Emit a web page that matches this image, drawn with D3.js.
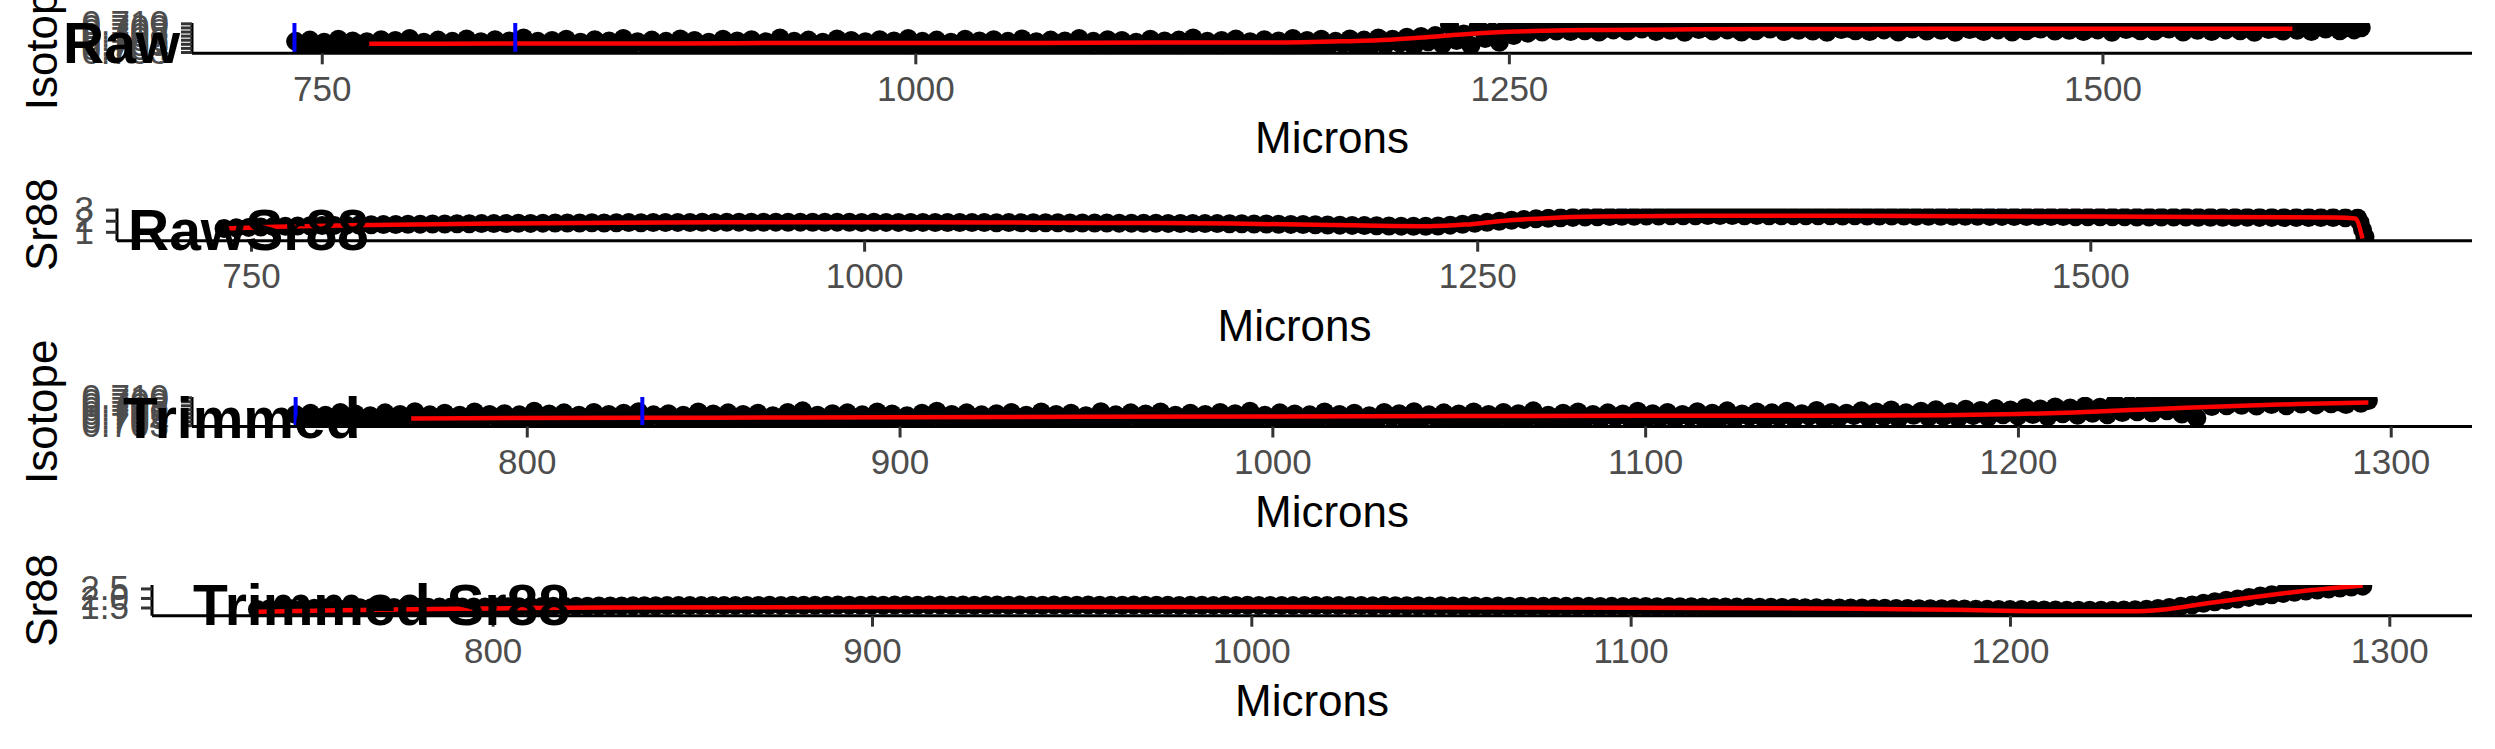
<!DOCTYPE html>
<html><head><meta charset="utf-8">
<script src="https://cdn.jsdelivr.net/npm/d3@7"></script>
<style>
html,body{margin:0;padding:0;background:#fff;}
svg{display:block;font-family:"Liberation Sans",Arial,Helvetica,sans-serif;}
</style>
</head><body>
<svg id="chart" width="2495" height="749"></svg>
<script>
// ---------------- DATA ----------------
// raw isotope ablation positions (microns)
const rawIsoX = [
739,742,745,748,751,754,757,760,763,766,
769,772,775,778,781,784,787,790,793,796,
799,802,805,808,811,814,817,820,823,826,
829,832,835,838,841,844,847,850,853,856,
859,862,865,868,871,874,877,880,883,886,
889,892,895,898,901,904,907,910,913,916,
919,922,925,928,931,934,937,940,943,946,
949,952,955,958,961,964,967,970,973,976,
979,982,985,988,991,994,997,1000,1003,1006,
1009,1012,1015,1018,1021,1024,1027,1030,1033,1036,
1039,1042,1045,1048,1051,1054,1057,1060,1063,1066,
1069,1072,1075,1078,1081,1084,1087,1090,1093,1096,
1099,1102,1105,1108,1111,1114,1117,1120,1123,1126,
1129,1132,1135,1138,1141,1144,1147,1150,1153,1156,
1159,1162,1165,1168,1171,1174,1177,1180,1183,1186,
1189,1192,1195,1198,1201,1204,1207,1210,1213,1216,
1219,1222,1225,1228,1231,1234,1237,1240,1243,1246,
1249,1252,1255,1258,1261,1264,1267,1270,1273,1276,
1279,1282,1285,1288,1291,1294,1297,1300,1303,1306,
1309,1312,1315,1318,1321,1324,1327,1330,1333,1336,
1339,1342,1345,1348,1351,1354,1357,1360,1363,1366,
1369,1372,1375,1378,1381,1384,1387,1390,1393,1396,
1399,1402,1405,1408,1411,1414,1417,1420,1423,1426,
1429,1432,1435,1438,1441,1444,1447,1450,1453,1456,
1459,1462,1465,1468,1471,1474,1477,1480,1483,1486,
1489,1492,1495,1498,1501,1504,1507,1510,1513,1516,
1519,1522,1525,1528,1531,1534,1537,1540,1543,1546,
1549,1552,1555,1558,1561,1564,1567,1570,1573,1576,
1579,1582,1585,1588,1591,1594,1597,1600,1603,1606,
1609];

const rawIsotope = [
0.7056,0.7041,0.7059,0.7036,0.7054,0.7046,0.7061,0.7039,0.7057,0.7044,
0.7055,0.7033,0.7060,0.7047,0.7058,0.7040,0.7063,0.7043,0.7054,0.7037,
0.7059,0.7045,0.7056,0.7035,0.7062,0.7042,0.7055,0.7048,0.7060,0.7038,
0.7057,0.7044,0.7064,0.7040,0.7056,0.7034,0.7058,0.7046,0.7061,0.7041,
0.7054,0.7039,0.7060,0.7047,0.7057,0.7036,0.7063,0.7043,0.7055,0.7049,
0.7059,0.7032,0.7056,0.7045,0.7062,0.7040,0.7058,0.7037,0.7054,0.7046,
0.7061,0.7042,0.7057,0.7035,0.7060,0.7048,0.7055,0.7039,0.7064,0.7044,
0.7056,0.7038,0.7059,0.7046,0.7054,0.7041,0.7062,0.7033,0.7058,0.7047,
0.7055,0.7043,0.7060,0.7036,0.7057,0.7049,0.7063,0.7040,0.7056,0.7045,
0.7059,0.7038,0.7054,0.7047,0.7061,0.7034,0.7057,0.7044,0.7060,0.7041,
0.7056,0.7048,0.7062,0.7037,0.7055,0.7043,0.7059,0.7046,0.7057,0.7035,
0.7063,0.7042,0.7056,0.7049,0.7060,0.7039,0.7058,0.7045,0.7054,0.7040,
0.7061,0.7036,0.7057,0.7047,0.7059,0.7043,0.7064,0.7038,0.7056,0.7048,
0.7058,0.7044,0.7062,0.7035,0.7055,0.7046,0.7060,0.7041,0.7057,0.7049,
0.7063,0.7039,0.7058,0.7047,0.7061,0.7043,0.7056,0.7050,0.7062,0.7040,
0.7059,0.7046,0.7064,0.7048,0.7061,0.7052,0.7066,0.7044,0.7068,0.7055,
0.7070,0.7049,0.7095,0.7058,0.7074,0.7046,0.7090,0.7063,0.7079,0.7054,
0.7092,0.7070,0.7085,0.7076,0.7094,0.7079,0.7088,0.7081,0.7096,0.7080,
0.7090,0.7082,0.7093,0.7079,0.7088,0.7084,0.7095,0.7081,0.7091,0.7086,
0.7094,0.7080,0.7089,0.7083,0.7096,0.7078,0.7092,0.7085,0.7090,0.7081,
0.7093,0.7084,0.7088,0.7079,0.7095,0.7082,0.7091,0.7086,0.7094,0.7080,
0.7089,0.7083,0.7096,0.7081,0.7090,0.7078,0.7093,0.7085,0.7088,0.7082,
0.7095,0.7080,0.7091,0.7084,0.7094,0.7079,0.7089,0.7086,0.7096,0.7081,
0.7090,0.7083,0.7093,0.7078,0.7092,0.7085,0.7088,0.7080,0.7095,0.7084,
0.7091,0.7079,0.7094,0.7082,0.7089,0.7086,0.7096,0.7081,0.7090,0.7083,
0.7093,0.7080,0.7088,0.7084,0.7095,0.7078,0.7092,0.7085,0.7089,0.7082,
0.7094,0.7081,0.7090,0.7086,0.7096,0.7079,0.7091,0.7083,0.7093,0.7080,
0.7089,0.7084,0.7095,0.7082,0.7090,0.7078,0.7094,0.7085,0.7088,0.7081,
0.7092,0.7083,0.7096,0.7080,0.7091,0.7086,0.7093,0.7082,0.7090,0.7084,
0.7089];

// raw Sr88 positions (microns)
const rawSrX = [
739,744,749,754,759,764,769,774,779,784,
789,794,799,804,809,814,819,824,829,834,
839,844,849,854,859,864,869,874,879,884,
889,894,899,904,909,914,919,924,929,934,
939,944,949,954,959,964,969,974,979,984,
989,994,999,1004,1009,1014,1019,1024,1029,1034,
1039,1044,1049,1054,1059,1064,1069,1074,1079,1084,
1089,1094,1099,1104,1109,1114,1119,1124,1129,1134,
1139,1144,1149,1154,1159,1164,1169,1174,1179,1184,
1189,1194,1199,1204,1209,1214,1219,1224,1229,1234,
1239,1244,1249,1254,1259,1264,1269,1274,1279,1284,
1289,1294,1299,1304,1309,1314,1319,1324,1329,1334,
1339,1344,1349,1354,1359,1364,1369,1374,1379,1384,
1389,1394,1399,1404,1409,1414,1419,1424,1429,1434,
1439,1444,1449,1454,1459,1464,1469,1474,1479,1484,
1489,1494,1499,1504,1509,1514,1519,1524,1529,1534,
1539,1544,1549,1554,1559,1564,1569,1574,1579,1584,
1589,1594,1599,1604,1609,1610,1611,1612];

const rawSr88 = [
1.30,1.36,1.40,1.44,1.47,1.50,1.52,1.55,1.57,1.58,
1.60,1.62,1.63,1.65,1.66,1.68,1.69,1.70,1.70,1.72,
1.72,1.74,1.74,1.75,1.77,1.76,1.78,1.79,1.79,1.80,
1.81,1.80,1.82,1.83,1.82,1.84,1.84,1.85,1.84,1.86,
1.85,1.86,1.87,1.86,1.86,1.87,1.86,1.87,1.86,1.86,
1.87,1.86,1.85,1.86,1.85,1.85,1.84,1.85,1.84,1.84,
1.84,1.83,1.84,1.82,1.83,1.82,1.82,1.81,1.81,1.80,
1.80,1.80,1.79,1.78,1.78,1.77,1.77,1.76,1.75,1.75,
1.74,1.74,1.73,1.72,1.71,1.70,1.68,1.67,1.66,1.64,
1.62,1.60,1.58,1.56,1.54,1.52,1.51,1.50,1.50,1.53,
1.60,1.68,1.77,1.86,1.95,2.04,2.12,2.18,2.23,2.27,
2.30,2.33,2.36,2.38,2.40,2.41,2.42,2.43,2.44,2.45,
2.45,2.46,2.46,2.46,2.45,2.46,2.45,2.45,2.44,2.45,
2.44,2.44,2.43,2.44,2.43,2.42,2.42,2.42,2.41,2.41,
2.41,2.40,2.40,2.40,2.39,2.39,2.38,2.38,2.38,2.37,
2.37,2.36,2.36,2.36,2.35,2.35,2.34,2.34,2.34,2.33,
2.33,2.32,2.32,2.31,2.31,2.31,2.30,2.30,2.29,2.29,
2.29,2.28,2.28,2.27,2.25,1.85,1.20,0.55];

// trimmed isotope positions (microns)
const trimIsoX = [
738,740,742,744,746,748,750,752,754,756,
758,760,762,764,766,768,770,772,774,776,
778,780,782,784,786,788,790,792,794,796,
798,800,802,804,806,808,810,812,814,816,
818,820,822,824,826,828,830,832,834,836,
838,840,842,844,846,848,850,852,854,856,
858,860,862,864,866,868,870,872,874,876,
878,880,882,884,886,888,890,892,894,896,
898,900,902,904,906,908,910,912,914,916,
918,920,922,924,926,928,930,932,934,936,
938,940,942,944,946,948,950,952,954,956,
958,960,962,964,966,968,970,972,974,976,
978,980,982,984,986,988,990,992,994,996,
998,1000,1002,1004,1006,1008,1010,1012,1014,1016,
1018,1020,1022,1024,1026,1028,1030,1032,1034,1036,
1038,1040,1042,1044,1046,1048,1050,1052,1054,1056,
1058,1060,1062,1064,1066,1068,1070,1072,1074,1076,
1078,1080,1082,1084,1086,1088,1090,1092,1094,1096,
1098,1100,1102,1104,1106,1108,1110,1112,1114,1116,
1118,1120,1122,1124,1126,1128,1130,1132,1134,1136,
1138,1140,1142,1144,1146,1148,1150,1152,1154,1156,
1158,1160,1162,1164,1166,1168,1170,1172,1174,1176,
1178,1180,1182,1184,1186,1188,1190,1192,1194,1196,
1198,1200,1202,1204,1206,1208,1210,1212,1214,1216,
1218,1220,1222,1224,1226,1228,1230,1232,1234,1236,
1238,1240,1242,1244,1246,1248,1250,1252,1254,1256,
1258,1260,1262,1264,1266,1268,1270,1272,1274,1276,
1278,1280,1282,1284,1286,1288,1290,1292,1294];

const trimIsotope = [
0.7057,0.7040,0.7060,0.7035,0.7055,0.7045,0.7062,0.7038,0.7058,0.7043,
0.7054,0.7033,0.7061,0.7047,0.7057,0.7041,0.7064,0.7044,0.7056,0.7037,
0.7060,0.7046,0.7055,0.7036,0.7063,0.7042,0.7057,0.7049,0.7059,0.7039,
0.7056,0.7044,0.7065,0.7040,0.7058,0.7034,0.7061,0.7047,0.7055,0.7042,
0.7062,0.7038,0.7057,0.7048,0.7060,0.7036,0.7064,0.7043,0.7056,0.7049,
0.7059,0.7032,0.7055,0.7045,0.7063,0.7041,0.7058,0.7037,0.7061,0.7046,
0.7057,0.7043,0.7060,0.7035,0.7054,0.7048,0.7062,0.7039,0.7066,0.7044,
0.7055,0.7038,0.7059,0.7047,0.7061,0.7041,0.7056,0.7033,0.7063,0.7046,
0.7058,0.7043,0.7054,0.7036,0.7060,0.7049,0.7065,0.7040,0.7057,0.7045,
0.7061,0.7038,0.7056,0.7047,0.7059,0.7034,0.7062,0.7044,0.7055,0.7041,
0.7063,0.7048,0.7057,0.7037,0.7060,0.7043,0.7054,0.7046,0.7064,0.7035,
0.7056,0.7042,0.7061,0.7049,0.7058,0.7039,0.7063,0.7045,0.7055,0.7040,
0.7060,0.7036,0.7057,0.7047,0.7062,0.7043,0.7059,0.7038,0.7065,0.7048,
0.7055,0.7044,0.7061,0.7035,0.7058,0.7046,0.7056,0.7041,0.7063,0.7049,
0.7057,0.7039,0.7060,0.7047,0.7054,0.7043,0.7062,0.7050,0.7059,0.7040,
0.7064,0.7046,0.7056,0.7048,0.7061,0.7042,0.7058,0.7044,0.7063,0.7037,
0.7057,0.7049,0.7062,0.7041,0.7059,0.7045,0.7066,0.7047,0.7055,0.7043,
0.7060,0.7038,0.7063,0.7048,0.7057,0.7044,0.7061,0.7050,0.7058,0.7046,
0.7065,0.7042,0.7059,0.7049,0.7062,0.7045,0.7057,0.7051,0.7064,0.7043,
0.7060,0.7048,0.7066,0.7046,0.7058,0.7052,0.7063,0.7044,0.7061,0.7050,
0.7065,0.7047,0.7059,0.7053,0.7067,0.7045,0.7062,0.7049,0.7060,0.7054,
0.7066,0.7048,0.7063,0.7051,0.7068,0.7046,0.7061,0.7055,0.7065,0.7050,
0.7069,0.7052,0.7064,0.7048,0.7070,0.7054,0.7067,0.7050,0.7072,0.7056,
0.7068,0.7053,0.7074,0.7057,0.7071,0.7051,0.7076,0.7059,0.7073,0.7055,
0.7078,0.7060,0.7075,0.7056,0.7086,0.7062,0.7080,0.7064,0.7091,0.7061,
0.7083,0.7066,0.7093,0.7058,0.7087,0.7048,0.7090,0.7077,0.7094,0.7079,
0.7088,0.7080,0.7095,0.7078,0.7090,0.7082,0.7093,0.7079,0.7096,0.7083,
0.7091,0.7081,0.7094,0.7084,0.7089,0.7082,0.7095,0.7085,0.7092];

// trimmed Sr88 positions (microns)
const trimSrX = [
738,741,744,747,750,753,756,759,762,765,
768,771,774,777,780,783,786,789,792,795,
798,801,804,807,810,813,816,819,822,825,
828,831,834,837,840,843,846,849,852,855,
858,861,864,867,870,873,876,879,882,885,
888,891,894,897,900,903,906,909,912,915,
918,921,924,927,930,933,936,939,942,945,
948,951,954,957,960,963,966,969,972,975,
978,981,984,987,990,993,996,999,1002,1005,
1008,1011,1014,1017,1020,1023,1026,1029,1032,1035,
1038,1041,1044,1047,1050,1053,1056,1059,1062,1065,
1068,1071,1074,1077,1080,1083,1086,1089,1092,1095,
1098,1101,1104,1107,1110,1113,1116,1119,1122,1125,
1128,1131,1134,1137,1140,1143,1146,1149,1152,1155,
1158,1161,1164,1167,1170,1173,1176,1179,1182,1185,
1188,1191,1194,1197,1200,1203,1206,1209,1212,1215,
1218,1221,1224,1227,1230,1233,1236,1239,1242,1245,
1248,1251,1254,1257,1260,1263,1266,1269,1272,1275,
1278,1281,1284,1287,1290,1293];

const trimSr88 = [
1.40,1.42,1.43,1.44,1.45,1.46,1.47,1.47,1.48,1.49,
1.49,1.50,1.50,1.51,1.51,1.51,1.52,1.52,1.52,1.53,
1.52,1.53,1.54,1.54,1.55,1.55,1.56,1.56,1.57,1.57,
1.58,1.58,1.58,1.59,1.59,1.59,1.60,1.60,1.60,1.60,
1.61,1.60,1.61,1.61,1.61,1.62,1.61,1.62,1.62,1.62,
1.62,1.63,1.62,1.62,1.63,1.62,1.63,1.63,1.62,1.63,
1.63,1.62,1.63,1.62,1.63,1.63,1.62,1.63,1.62,1.62,
1.63,1.62,1.62,1.63,1.62,1.62,1.62,1.63,1.62,1.62,
1.62,1.61,1.62,1.62,1.61,1.62,1.61,1.62,1.61,1.61,
1.61,1.60,1.61,1.60,1.61,1.60,1.60,1.60,1.59,1.60,
1.59,1.59,1.59,1.58,1.59,1.58,1.58,1.58,1.57,1.58,
1.57,1.57,1.57,1.56,1.57,1.56,1.56,1.56,1.55,1.56,
1.55,1.55,1.55,1.54,1.55,1.54,1.54,1.53,1.53,1.53,
1.52,1.52,1.51,1.51,1.50,1.50,1.49,1.49,1.48,1.48,
1.47,1.47,1.46,1.46,1.45,1.45,1.44,1.44,1.43,1.43,
1.42,1.41,1.41,1.40,1.39,1.39,1.38,1.37,1.37,1.36,
1.36,1.36,1.36,1.36,1.37,1.38,1.41,1.45,1.50,1.56,
1.63,1.72,1.80,1.88,1.95,2.03,2.10,2.17,2.24,2.30,
2.36,2.42,2.47,2.52,2.57,2.62];

// smoothed (red) curves
const smRawIsoX = [770,800,850,900,950,1000,1050,1100,1150,1180,1200,1215,1230,1245,1260,1275,1290,1320,1360,1400,1450,1500,1550,1580];
const smRawIsoY = [0.7050,0.7050,0.7051,0.7051,0.7052,0.7052,0.7052,0.7053,0.7053,0.7056,0.7060,0.7066,0.7073,0.7078,0.7081,0.7083,0.7084,0.7085,0.7086,0.7086,0.7087,0.7087,0.7087,0.7087];
const smRawSrX = [739,760,800,850,900,950,1000,1050,1100,1150,1190,1215,1230,1245,1260,1280,1300,1340,1400,1500,1600,1608,1611];
const smRawSrY = [1.30,1.45,1.62,1.74,1.81,1.86,1.86,1.84,1.80,1.74,1.62,1.52,1.50,1.65,1.98,2.25,2.37,2.45,2.44,2.37,2.28,2.20,0.40];
const smTrimIsoX = [769,800,850,900,950,1000,1050,1100,1150,1180,1200,1215,1230,1245,1260,1275,1294];
const smTrimIsoY = [0.7047,0.7048,0.7049,0.7050,0.7051,0.7052,0.7053,0.7054,0.7054,0.7055,0.7058,0.7062,0.7068,0.7074,0.7079,0.7083,0.7087];
const smTrimSrX = [738,760,800,830,900,1000,1100,1160,1185,1212,1232,1240,1252,1265,1279,1293];
const smTrimSrY = [1.28,1.36,1.45,1.50,1.53,1.53,1.49,1.44,1.38,1.30,1.30,1.38,1.72,2.06,2.40,2.65];

// blue cut markers (microns)
const rawCuts = [738.5, 831.5];
const trimCuts = [738, 831];

// tick values / labels
const rawXTicks = [750, 1000, 1250, 1500];
const trimXTicks = [800, 900, 1000, 1100, 1200, 1300];
const isoTicks = [0.703, 0.704, 0.705, 0.706, 0.707, 0.708, 0.709, 0.710];
const srRawTicks = [1, 2, 3];
const srTrimTicks = [1.5, 2.0, 2.5];
const isoDomain = [0.70268, 0.71008];
const srRawDomain = [0.2, 3.1];
const srTrimDomain = [1.07, 2.68];

const titles = ["Raw", "RawSr88", "Trimmed", "Trimmed Sr88"];
const yTitles = ["Isotope", "Sr88", "Isotope", "Sr88"];
const xTitle = "Microns";

// ---------------- LAYOUT ----------------
const svg = d3.select("#chart");
const RIGHT = 2472;
const PT_R = 9.5;
const boxes = [
  {top: 23,    bottom: 53.3,  left: 192, tx: 63,  ty: 63.3},
  {top: 208.5, bottom: 240.7, left: 117, tx: 128, ty: 250},
  {top: 397,   bottom: 426.5, left: 192, tx: 123, ty: 438.3},
  {top: 585,   bottom: 615.7, left: 152, tx: 193, ty: 625}
];

// x domain shared by raw panels / trimmed panels (data extent + 5% like ggplot)
const rawXDomain = d3.extent(rawSrX.concat(rawIsoX));
const trimXDomain = d3.extent(trimSrX.concat(trimIsoX));

const specs = [
  {x: rawIsoX,  y: rawIsotope,  xd: rawXDomain,  sx: smRawIsoX,  sy: smRawIsoY,  cuts: rawCuts,  yd: isoDomain,    yt: isoTicks,    fmt: d3.format(".3f"), xt: rawXTicks},
  {x: rawSrX,   y: rawSr88,     xd: rawXDomain,  sx: smRawSrX,   sy: smRawSrY,   cuts: [],       yd: srRawDomain,  yt: srRawTicks,  fmt: d3.format("d"),   xt: rawXTicks},
  {x: trimIsoX, y: trimIsotope, xd: trimXDomain, sx: smTrimIsoX, sy: smTrimIsoY, cuts: trimCuts, yd: isoDomain,    yt: isoTicks,    fmt: d3.format(".3f"), xt: trimXTicks},
  {x: trimSrX,  y: trimSr88,    xd: trimXDomain, sx: smTrimSrX,  sy: smTrimSrY,  cuts: [],       yd: srTrimDomain, yt: srTrimTicks, fmt: d3.format(".1f"), xt: trimXTicks}
];

const zip = (a, b) => d3.range(Math.min(a.length, b.length)).map(i => [a[i], b[i]]);

specs.forEach((s, k) => {
  const b = boxes[k];
  const pad = (s.xd[1] - s.xd[0]) * 0.05;
  const x = d3.scaleLinear().domain([s.xd[0] - pad, s.xd[1] + pad]).range([b.left, RIGHT]);
  const y = d3.scaleLinear().domain(s.yd).range([b.bottom, b.top]);
  const g = svg.append("g");

  const clipId = "clip" + k;
  svg.append("clipPath").attr("id", clipId).append("rect")
    .attr("x", b.left).attr("y", b.top).attr("width", RIGHT - b.left).attr("height", b.bottom - b.top);

  const panel = g.append("g").attr("clip-path", `url(#${clipId})`);
  panel.selectAll("circle").data(zip(s.x, s.y)).join("circle")
    .attr("cx", d => x(d[0])).attr("cy", d => y(d[1])).attr("r", PT_R).attr("fill", "#000");

  panel.append("path").datum(zip(s.sx, s.sy))
    .attr("d", d3.line().x(d => x(d[0])).y(d => y(d[1])).curve(d3.curveMonotoneX))
    .attr("fill", "none").attr("stroke", "#FF0000").attr("stroke-width", 4.5);

  panel.selectAll("line.cut").data(s.cuts).join("line").attr("class", "cut")
    .attr("x1", d => x(d)).attr("x2", d => x(d)).attr("y1", b.top).attr("y2", b.bottom)
    .attr("stroke", "#0000FF").attr("stroke-width", 4);

  // axes
  const xa = g.append("g").attr("transform", `translate(0,${b.bottom})`)
    .call(d3.axisBottom(x).tickValues(s.xt).tickSize(11).tickSizeOuter(0).tickPadding(11.7).tickFormat(d3.format("d")));
  const ya = g.append("g").attr("transform", `translate(${b.left},0)`)
    .call(d3.axisLeft(y).tickValues(s.yt).tickSize(11).tickSizeOuter(0).tickPadding(12).tickFormat(s.fmt));
  [xa, ya].forEach(a => {
    a.select(".domain").attr("stroke", "#000").attr("stroke-width", 3);
    a.selectAll(".tick line").attr("stroke", "#333333").attr("stroke-width", 3);
    a.selectAll(".tick text").attr("fill", "#4D4D4D").style("font-size", "35px")
      .style("font-family", '"Liberation Sans", Arial, sans-serif');
  });
  xa.select(".domain").attr("d", `M${b.left},0H${RIGHT}`);
  ya.select(".domain").attr("d", `M0,${b.top}V${b.bottom}`);

  // axis titles
  g.append("text").attr("x", (b.left + RIGHT) / 2).attr("y", b.bottom + 100)
    .attr("text-anchor", "middle").style("font-size", "44px").attr("fill", "#000").text(xTitle);
  g.append("text").attr("transform", `translate(57,${(b.top + b.bottom) / 2}) rotate(-90)`)
    .attr("text-anchor", "middle").style("font-size", "44px").attr("fill", "#000").text(yTitles[k]);

  // panel title
  g.append("text").attr("x", b.tx).attr("y", b.ty)
    .style("font-size", "57px").style("font-weight", "bold").attr("fill", "#000").text(titles[k]);
});
</script>
</body></html>
